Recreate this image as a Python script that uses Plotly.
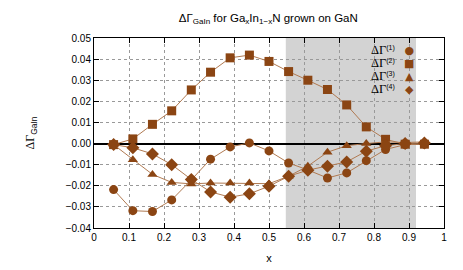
import plotly.graph_objects as go

x_vals = [0.056, 0.111, 0.167, 0.222, 0.278, 0.333, 0.389, 0.444, 0.5,
          0.556, 0.611, 0.667, 0.722, 0.778, 0.833, 0.889, 0.944]
dg1 = [-0.0218, -0.0318, -0.0322, -0.0267, -0.0172, -0.0074, -0.0016, 0.0003, -0.0035,
       -0.0092, -0.0125, -0.0163, -0.0139, -0.0081, -0.0028, -0.0005, -0.0003]
dg2 = [-0.0005, 0.0022, 0.0091, 0.0155, 0.0254, 0.0338, 0.0406, 0.0419, 0.0389,
       0.0341, 0.0300, 0.0256, 0.0183, 0.0079, 0.0020, -0.0003, -0.0003]
dg3 = [-0.0005, -0.0077, -0.0146, -0.0184, -0.0191, -0.0187, -0.0187, -0.0187, -0.0190,
       -0.0155, -0.0107, -0.0041, -0.0010, 0.0000, 0.0008, 0.0005, 0.0008]
dg4 = [-0.0005, -0.0020, -0.0049, -0.0100, -0.0170, -0.0229, -0.0254, -0.0238, -0.0202,
       -0.0155, -0.0126, -0.0107, -0.0087, -0.0036, -0.0010, 0.0000, 0.0003]
series_names = ["ΔΓ<sup>(1)</sup>", "ΔΓ<sup>(2)</sup>", "ΔΓ<sup>(3)</sup>", "ΔΓ<sup>(4)</sup>"]
symbols = ["circle", "square", "triangle-up", "diamond"]
glyphs = ["●", "■", "▲", "◆"]
shade_range = [0.548, 0.92]
x_ticks = [0, 0.1, 0.2, 0.3, 0.4, 0.5, 0.6, 0.7, 0.8, 0.9, 1]
x_ticklabels = ["0", "0.1", "0.2", "0.3", "0.4", "0.5", "0.6", "0.7", "0.8", "0.9", "1"]

marker_color = "#8B4513"
line_color = "#B07A52"

fig = go.Figure()
for name, ys, sym in zip(series_names, [dg1, dg2, dg3, dg4], symbols):
    fig.add_trace(go.Scatter(
        x=x_vals, y=ys, mode="lines+markers", name=name,
        line=dict(color=line_color, width=1),
        marker=dict(symbol=sym, size=9 if sym != "diamond" else 10, color=marker_color,
                    line=dict(width=0)),
        showlegend=False,
    ))

fig.add_shape(type="rect", xref="x", yref="paper", x0=shade_range[0], x1=shade_range[1],
              y0=0, y1=1, fillcolor="#D3D3D3", line=dict(width=0), layer="below")

# legend drawn as two multi-line annotations (labels, then symbol glyphs)
label_lines = [
    '<span style="font-family:Liberation Serif;font-size:12.5px">ΔΓ</span><sup>(%d)</sup>' % (i + 1)
    for i in range(len(series_names))
]
glyph_lines = ['<span style="font-size:11px">%s</span>' % g for g in glyphs]
legend_y = 0.832
fig.add_annotation(xref="paper", yref="paper", x=0.865, y=legend_y, xanchor="right", yanchor="middle",
                   text="<br>".join(label_lines), align="right",
                   showarrow=False, font=dict(size=10, color="black"))
fig.add_annotation(xref="paper", yref="paper", x=0.9, y=legend_y, xanchor="center", yanchor="middle",
                   text="<br>".join(glyph_lines), align="center",
                   showarrow=False, font=dict(size=10, color=marker_color, family="DejaVu Sans"))

axis_common = dict(showline=True, linecolor="black", linewidth=1, mirror="ticks",
                   ticks="inside", ticklen=5, tickcolor="black", tickwidth=1,
                   showgrid=True, gridcolor="#999999", griddash="dot", gridwidth=1,
                   tickfont=dict(size=10, color="black"))

fig.update_xaxes(range=[0, 1], zeroline=False,
                 tickvals=x_ticks, ticktext=x_ticklabels,
                 title=dict(text="x", font=dict(size=11, color="black"), standoff=12), **axis_common)
fig.update_yaxes(range=[-0.04, 0.05], dtick=0.01, tick0=0, tickformat=".2f",
                 zeroline=True, zerolinecolor="black", zerolinewidth=1.5,
                 title=dict(text='<span style="font-family:Liberation Serif">ΔΓ</span><sub>GaIn</sub>',
                            font=dict(size=12, color="black"), standoff=28), **axis_common)

fig.update_layout(
    width=455, height=262,
    margin=dict(l=86, r=19, t=30, b=42, autoexpand=False),
    paper_bgcolor="white", plot_bgcolor="white",
    font=dict(family="Liberation Sans, Arial, sans-serif", color="black"),
    title=dict(text="ΔΓ<sub>GaIn</sub> for Ga<sub>x</sub>In<sub>1−x</sub>N grown on GaN",
               x=0.572, xanchor="center", y=0.962, yanchor="middle",
               font=dict(size=11.5, color="black")),
)

fig.write_html("out.html")
